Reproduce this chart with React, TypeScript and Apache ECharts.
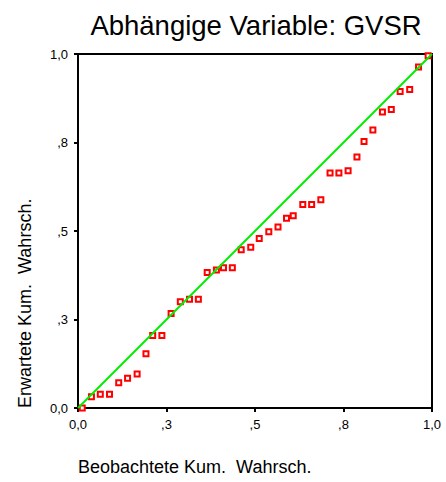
import React, { useEffect, useRef } from "react";
import * as echarts from "echarts";

const titleText = "Abhängige Variable: GVSR";
const xAxisTitle = "Beobachtete Kum.  Wahrsch.";
const yAxisTitle = "Erwartete Kum.  Wahrsch.";

const tickValues = [0, 0.25, 0.5, 0.75, 1];
const tickLabels = ["0,0", ",3", ",5", ",8", "1,0"];

const observedCum = [
  0.012, 0.038, 0.063, 0.089, 0.115, 0.14, 0.167, 0.192, 0.211, 0.237,
  0.263, 0.289, 0.315, 0.34, 0.365, 0.391, 0.411, 0.436, 0.461, 0.488,
  0.512, 0.539, 0.565, 0.589, 0.608, 0.635, 0.66, 0.686, 0.712, 0.737,
  0.763, 0.788, 0.808, 0.833, 0.86, 0.885, 0.91, 0.937, 0.962, 0.989,
];
const expectedCum = [
  0.0, 0.032, 0.039, 0.039, 0.071, 0.084, 0.096, 0.153, 0.205, 0.205,
  0.267, 0.3, 0.307, 0.307, 0.383, 0.39, 0.396, 0.396, 0.447, 0.454,
  0.479, 0.498, 0.511, 0.536, 0.543, 0.575, 0.575, 0.588, 0.664, 0.664,
  0.67, 0.709, 0.753, 0.785, 0.836, 0.843, 0.894, 0.9, 0.963, 0.995,
];
const diagonal = [
  [0, 0],
  [1, 1],
];

const labelFor = (v: number) => {
  const i = tickValues.findIndex((t) => Math.abs(t - v) < 1e-9);
  return i >= 0 ? tickLabels[i] : "";
};

export default function App() {
  const ref = useRef<HTMLDivElement>(null);
  useEffect(() => {
    if (!ref.current) return;
    const chart = echarts.init(ref.current, null, { renderer: "svg" });
    const font = "Liberation Sans, Arial, sans-serif";
    const axisCommon = {
      type: "value" as const,
      min: 0,
      max: 1,
      interval: 0.25,
      splitLine: { show: false },
      axisLine: { show: true, lineStyle: { color: "#000", width: 2 } },
      axisTick: { show: true, inside: false, length: 4, lineStyle: { color: "#000", width: 2 } },
      axisLabel: {
        color: "#000",
        fontSize: 13,
        fontFamily: font,
        formatter: (v: number) => labelFor(v),
      },
    };
    chart.setOption({
      animation: false,
      backgroundColor: "#fff",
      title: {
        text: titleText,
        left: 251,
        top: 6,
        textAlign: "center",
        textStyle: { fontSize: 27.5, fontWeight: "normal", color: "#000", fontFamily: font },
      },
      grid: {
        left: 78,
        top: 54,
        width: 354,
        height: 354,
        show: true,
        borderColor: "#000",
        borderWidth: 2,
        backgroundColor: "transparent",
      },
      xAxis: { ...axisCommon, axisLabel: { ...axisCommon.axisLabel, margin: 10 } },
      yAxis: { ...axisCommon, axisLabel: { ...axisCommon.axisLabel, margin: 10 } },
      graphic: [
        {
          type: "text",
          left: 78,
          top: 458,
          style: { text: xAxisTitle, fontSize: 18, fontFamily: font, fill: "#000" },
        },
        {
          type: "text",
          x: 34,
          y: 408,
          rotation: Math.PI / 2,
          style: {
            text: yAxisTitle,
            fontSize: 18,
            fontFamily: font,
            fill: "#000",
            align: "left",
            verticalAlign: "bottom",
          },
        },
      ],
      series: [
        {
          type: "scatter",
          data: observedCum.map((x, i) => [x, expectedCum[i]]),
          symbol: "rect",
          symbolSize: 5,
          itemStyle: { color: "#fff", borderColor: "#ff0000", borderWidth: 2, opacity: 1 },
          z: 2,
        },
        {
          type: "line",
          data: diagonal,
          showSymbol: false,
          symbol: "none",
          lineStyle: { color: "#00ee00", width: 2 },
          z: 3,
        },
      ],
    });
    return () => chart.dispose();
  }, []);
  return (
    <div
      ref={ref}
      style={{ position: "absolute", left: 0, top: 0, width: 446, height: 482 }}
    />
  );
}
